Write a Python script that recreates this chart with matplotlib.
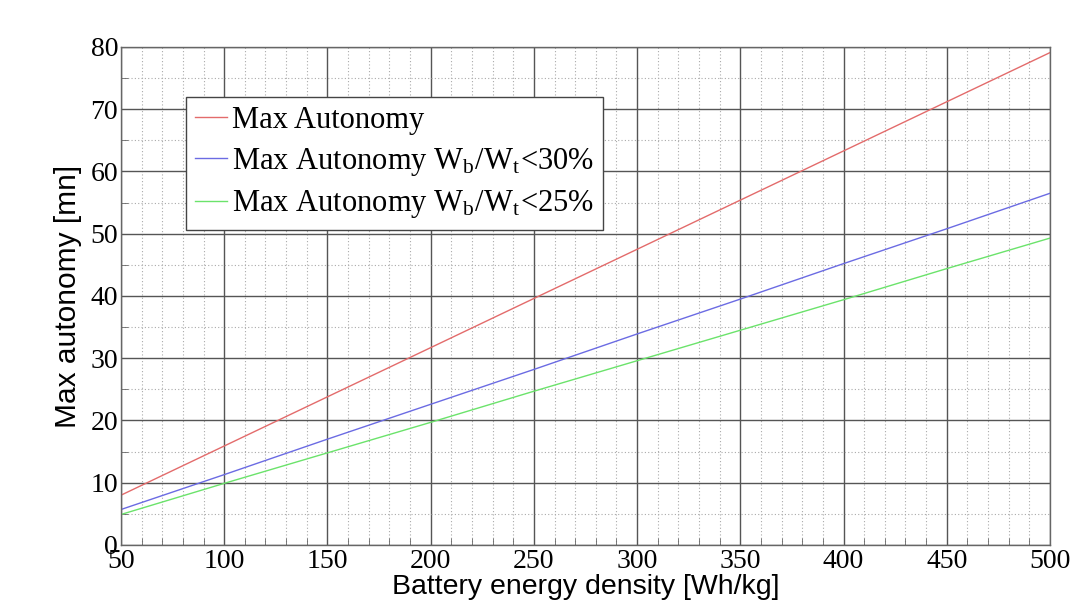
import matplotlib
matplotlib.use("Agg")
import matplotlib.pyplot as plt
from matplotlib.ticker import MultipleLocator

density = [50, 100, 150, 200, 250, 300, 350, 400, 450, 500]
max_autonomy = [8.0, 15.9, 23.8, 31.7, 39.6, 47.5, 55.4, 63.3, 71.2, 79.1]
max_autonomy_30 = [5.7, 11.3, 17.0, 22.6, 28.2, 33.9, 39.5, 45.2, 50.8, 56.5]
max_autonomy_25 = [4.9, 9.9, 14.8, 19.7, 24.7, 29.6, 34.5, 39.4, 44.4, 49.3]

plt.rcParams['mathtext.fontset'] = 'stix'

fig = plt.figure(figsize=(10.82, 6.04), dpi=100)
ax = fig.add_axes([0.1118, 0.0977, 0.8586, 0.8245])

ax.plot(density, max_autonomy, color='#e36b6b', lw=1.0, label='Max Autonomy')
ax.plot(density, max_autonomy_30, color='#6b6be3', lw=1.0,
        label=r'Max Autonomy W$_\mathregular{b}$/W$_\mathregular{t}$<30%')
ax.plot(density, max_autonomy_25, color='#6be36b', lw=1.0,
        label=r'Max Autonomy W$_\mathregular{b}$/W$_\mathregular{t}$<25%')

ax.set_xlim(50, 500)
ax.set_ylim(0, 80)
ax.xaxis.set_major_locator(MultipleLocator(50))
ax.xaxis.set_minor_locator(MultipleLocator(10))
ax.yaxis.set_major_locator(MultipleLocator(10))
ax.yaxis.set_minor_locator(MultipleLocator(5))

ax.grid(which='major', color='#555555', lw=1.0, ls='-')
ax.grid(which='minor', color='#aaaaaa', lw=0.8, ls=(0, (1, 2)))
ax.set_axisbelow(True)

for s in ax.spines.values():
    s.set_color('#666666')
    s.set_linewidth(1.0)

ax.tick_params(which='both', direction='in', colors='#666666', labelcolor='black')
ax.tick_params(which='major', length=0)
ax.tick_params(axis='x', which='major', pad=3)
ax.tick_params(axis='y', which='major', pad=2)
ax.tick_params(which='minor', length=5)
for lab in ax.get_xticklabels() + ax.get_yticklabels():
    lab.set_fontfamily('Liberation Serif')
    lab.set_fontsize(20)

ax.set_xlabel('Battery energy density [Wh/kg]', fontfamily='Liberation Sans', fontsize=20.5, labelpad=0)
ax.set_ylabel('Max autonomy [mn]', fontfamily='Liberation Sans', fontsize=21.5, labelpad=6)

leg = ax.legend(loc='upper left', bbox_to_anchor=(0.07, 0.9), prop={'family': 'Liberation Serif', 'size': 22},
                fancybox=False, framealpha=1, edgecolor='#444444', handlelength=1.05,
                handletextpad=0.15, borderaxespad=0, labelspacing=0.35, borderpad=0.3)
leg.get_frame().set_linewidth(1.0)

fig.savefig('out.png', dpi=100)
